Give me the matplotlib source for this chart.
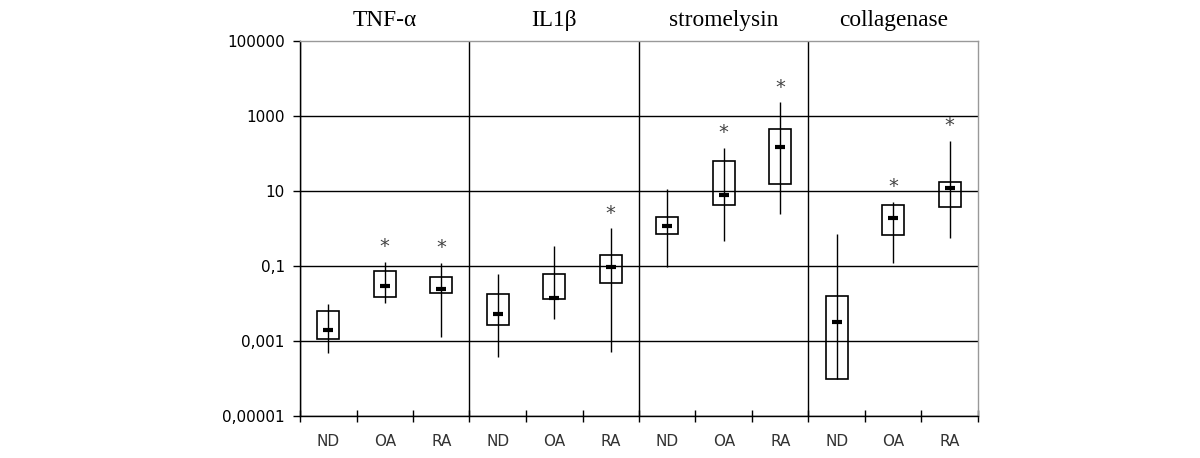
import matplotlib
matplotlib.use("Agg")
import matplotlib.pyplot as plt
import numpy as np

panels = ["TNF-\u03b1", "IL1\u03b2", "stromelysin", "collagenase"]
groups = ["ND", "OA", "RA"]

# per box: [TNF ND, TNF OA, TNF RA, IL ND, IL OA, IL RA, STR ND, STR OA, STR RA, COL ND, COL OA, COL RA]
whis_lo = [0.00047, 0.010, 0.0013, 0.00038, 0.0038, 0.0005, 0.095, 0.47, 2.4, 0.0001, 0.123, 0.55]
q1      = [0.0011, 0.015, 0.019, 0.0026, 0.013, 0.035, 0.71, 4.2, 15, 0.0001, 0.68, 3.8]
median  = [0.0020, 0.030, 0.025, 0.0054, 0.014, 0.093, 1.17, 7.8, 151, 0.0032, 1.86, 12.3]
q3      = [0.0062, 0.072, 0.052, 0.018, 0.060, 0.20, 2.0, 63, 447, 0.0155, 4.2, 17]
whis_hi = [0.0098, 0.13, 0.12, 0.062, 0.35, 1.0, 11, 141, 2340, 0.71, 5.1, 219]
signif  = [False, True, True, False, False, True, False, True, True, False, True, True]

yticks = [1e-5, 1e-3, 1e-1, 1e1, 1e3, 1e5]
ytick_labels = ["0,00001", "0,001", "0,1", "10", "1000", "100000"]

fig = plt.figure(figsize=(12, 4.58), dpi=100)
ax = fig.add_axes([0.25, 0.0917, 0.565, 0.8188])
ax.set_yscale("log")
ax.set_ylim(1e-5, 1e5)
n = len(median)
ax.set_xlim(0, n)
x = np.arange(n) + 0.5

# gridlines (except top which is the gray frame)
for yv in yticks[:-1]:
    ax.axhline(yv, color="black", lw=1.0, zorder=1)

# panel separators
for k in range(len(panels)):
    ax.axvline(k * 3, color="black", lw=1.0, zorder=1)

# whiskers
ax.vlines(x, whis_lo, whis_hi, color="black", lw=1.0, zorder=3)
# boxes
heights = [b - a for a, b in zip(q1, q3)]
ax.bar(x, heights, bottom=q1, width=0.39, fill=False, edgecolor="black", linewidth=1.2, zorder=4)
# medians
ax.hlines(median, x - 0.09, x + 0.09, color="black", lw=3, zorder=5)

# significance stars
for xi, hi, s in zip(x, whis_hi, signif):
    if s:
        ax.annotate("*", (xi, hi), xytext=(0, 4), textcoords="offset points",
                    ha="center", va="bottom", fontsize=14, color="#444444")

# panel titles
for k, t in enumerate(panels):
    ax.text(k * 3 + 1.5, 1.039, t, transform=ax.get_xaxis_transform(), ha="center",
            va="baseline", fontsize=16.8, family="Liberation Serif")

# spines
for side in ["top", "right"]:
    ax.spines[side].set_color("#999999")
    ax.spines[side].set_linewidth(1.0)
for side in ["left", "bottom"]:
    ax.spines[side].set_color("black")
    ax.spines[side].set_linewidth(1.0)

# y ticks
ax.set_yticks(yticks)
ax.set_yticklabels(ytick_labels)
ax.yaxis.set_minor_locator(matplotlib.ticker.NullLocator())
ax.tick_params(axis="y", direction="out", length=5, width=1, pad=6, labelsize=11, colors="black")

# x ticks
ax.set_xticks(x)
ax.set_xticklabels(groups * len(panels))
ax.set_xticks(np.arange(n + 1), minor=True)
ax.tick_params(axis="x", which="major", length=0, pad=13, labelsize=11, labelcolor="#333333")
ax.tick_params(axis="x", which="minor", direction="inout", length=8, width=1, color="black")

fig.savefig("out.png", dpi=100)
